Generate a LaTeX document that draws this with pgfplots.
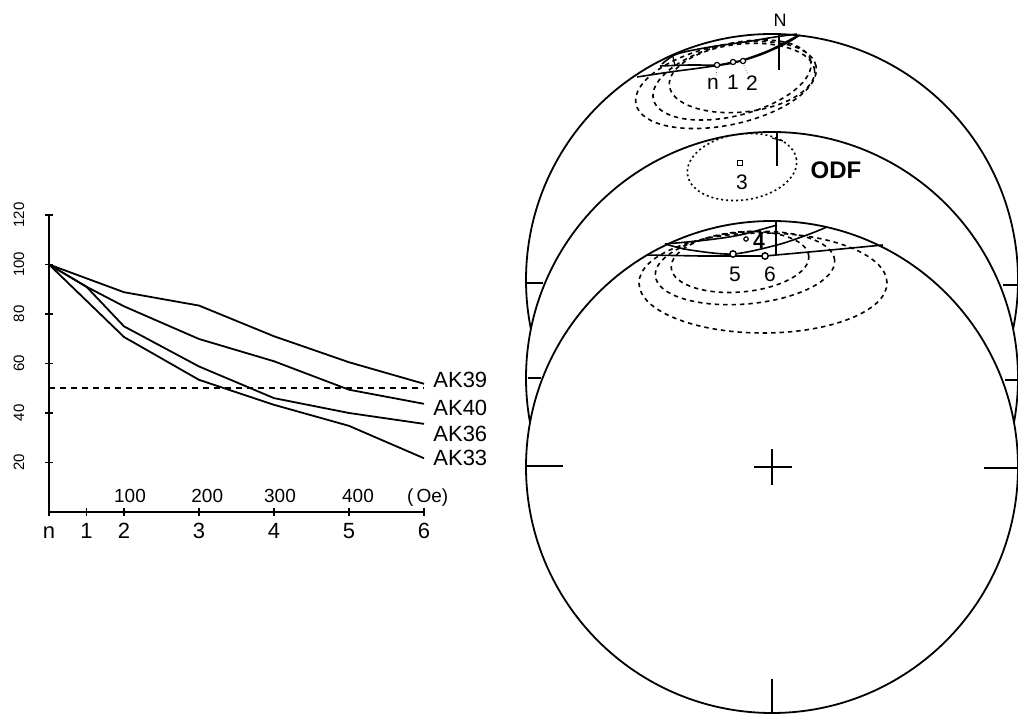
\documentclass[border=0pt]{standalone}
\usepackage{fontspec}
\setmainfont{Liberation Sans}
\usepackage{pgfplots}
\pgfplotsset{compat=1.18}
\begin{document}
\begin{tikzpicture}
\useasboundingbox (0,0) rectangle (509pt,357.5pt);
% ---------------- stereonets (pixel-based canvas axis) ----------------
\begin{axis}[name=canvas, at={(0,0)}, anchor=south west, scale only axis,
  width=509pt, height=357.5pt, xmin=0, xmax=1018, ymin=0, ymax=715,
  y dir=reverse, hide axis, clip=true]
% ===== top net =====
\draw[line width=0.9pt] (axis cs:772,280) circle[radius=123pt];
\draw[line width=0.8pt] (axis cs:527,283) -- (axis cs:543,283);
\draw[line width=0.8pt] (axis cs:1003,285) -- (axis cs:1018,285);
\draw[line width=0.8pt] (axis cs:779,34) -- (axis cs:779,70);
\draw[line width=0.6pt] (axis cs:673,57) -- (axis cs:675,66);
\addplot[black, smooth, line width=0.8pt] coordinates {(662,64) (677,54) (710,47) (745,42) (775,37) (797,34)};
\addplot[black, smooth, line width=0.8pt] coordinates {(660,66) (690,65) (717,65) (733,62) (743,60) (770,50) (797,36)};
\addplot[black, smooth, line width=0.8pt] coordinates {(637,77) (670,72) (700,68) (733,63) (760,55) (785,44) (800,35)};
\begin{scope}
\clip (axis cs:772,280) circle[radius=123pt];
\draw[line width=0.8pt, dash pattern=on 2.2pt off 2pt] (axis cs:726,85) circle[x radius=46pt, y radius=20pt, rotate=12];
\draw[line width=0.8pt, dash pattern=on 2.2pt off 2pt] (axis cs:732,80) circle[x radius=40.5pt, y radius=18pt, rotate=14];
\draw[line width=0.8pt, dash pattern=on 2.2pt off 2pt] (axis cs:742,78) circle[x radius=36.5pt, y radius=17pt, rotate=6];
\end{scope}
\draw[line width=0.3pt, densely dotted] (axis cs:717,67) -- (axis cs:716,76);
\draw[line width=0.3pt, densely dotted] (axis cs:743,63) -- (axis cs:748,75);
\addplot[only marks, mark=*, mark size=1.3pt, mark options={fill=white, draw=black, line width=0.6pt}] coordinates {(717,65) (733,62) (743,61)};
\node[font=\fontsize{9}{10}\selectfont] at (axis cs:780,20) {N};
\node[font=\fontsize{10.5}{11}\selectfont] at (axis cs:713,84) {n};
\node[font=\fontsize{10.5}{11}\selectfont] at (axis cs:733,82) {1};
\node[font=\fontsize{10.5}{11}\selectfont] at (axis cs:752,83) {2};
% ===== middle net =====
\draw[line width=0.9pt, fill=white] (axis cs:772,378) circle[radius=123pt];
\draw[line width=0.8pt] (axis cs:528,378) -- (axis cs:541,378);
\draw[line width=0.8pt] (axis cs:1005,380) -- (axis cs:1018,380);
\draw[line width=0.8pt] (axis cs:777,133) -- (axis cs:777,166);
\draw[line width=0.6pt] (axis cs:772,138) -- (axis cs:783,141);
\begin{scope}
\clip (axis cs:772,378) circle[radius=123pt];
\draw[line width=0.8pt, dash pattern=on 1pt off 1.5pt] (axis cs:742,167) circle[x radius=27.5pt, y radius=16.5pt, rotate=8];
\end{scope}
\addplot[only marks, mark=square, mark size=1.1pt, mark options={fill=white, draw=black, line width=0.5pt}] coordinates {(740,163)};
\node[font=\fontsize{10.5}{11}\selectfont] at (axis cs:742,182) {3};
\node[font=\bfseries\fontsize{12}{13}\selectfont] at (axis cs:836,170) {ODF};
% ===== bottom net =====
\draw[line width=0.9pt, fill=white] (axis cs:772,467) circle[radius=123pt];
\draw[line width=0.8pt] (axis cs:527,466) -- (axis cs:563,466);
\draw[line width=0.8pt] (axis cs:984,468) -- (axis cs:1018,468);
\draw[line width=0.8pt] (axis cs:772,679) -- (axis cs:772,713);
\draw[line width=0.9pt] (axis cs:754,467) -- (axis cs:792,467);
\draw[line width=0.9pt] (axis cs:772,449) -- (axis cs:772,485);
\draw[line width=0.8pt] (axis cs:776,222) -- (axis cs:776,255);
\addplot[black, smooth, line width=0.8pt] coordinates {(665,244) (707,240) (740,235) (777,225)};
\addplot[black, smooth, line width=0.8pt] coordinates {(665,244) (690,250) (733,254) (777,245) (807,235) (827,227)};
\addplot[black, line width=0.8pt] coordinates {(647,255) (700,256) (765,256) (820,251) (883,245)};
\begin{scope}
\clip (axis cs:772,467) circle[radius=123pt];
\draw[line width=0.8pt, dash pattern=on 2.2pt off 2pt] (axis cs:763,283) circle[x radius=62pt, y radius=25pt, rotate=0];
\draw[line width=0.8pt, dash pattern=on 2.2pt off 2pt] (axis cs:745,268) circle[x radius=45pt, y radius=18pt, rotate=5];
\draw[line width=0.8pt, dash pattern=on 2.2pt off 2pt] (axis cs:740,262) circle[x radius=34.5pt, y radius=15pt, rotate=5];
\end{scope}
\addplot[only marks, mark=*, mark size=1.1pt, mark options={fill=white, draw=black, line width=0.6pt}] coordinates {(746,239)};
\addplot[only marks, mark=*, mark size=1.6pt, mark options={fill=white, draw=black, line width=0.7pt}] coordinates {(733,254) (765,256)};
\node[font=\bfseries\fontsize{10.5}{11}\selectfont] at (axis cs:759,241) {4};
\node[font=\fontsize{10.5}{11}\selectfont] at (axis cs:735,274) {5};
\node[font=\fontsize{10.5}{11}\selectfont] at (axis cs:770,274) {6};
\end{axis}
% ---------------- demagnetisation curves ----------------
\begin{axis}[at={(24.5pt,101.5pt)}, anchor=south west, scale only axis,
  width=187.5pt, height=148.5pt, xmin=0, xmax=500, ymin=0, ymax=120,
  axis lines*=left, clip=false,
  x axis line style={line width=1.1pt}, y axis line style={line width=0.6pt},
  xtick={0,50,100,200,300,400,500}, xticklabels={n,1,2,3,4,5,6},
  ytick={20,40,60,80,100,120}, yticklabels={},
  tick align=center, major tick length=4pt, tick style={black, line width=0.6pt},
  xticklabel style={anchor=base, yshift=-11.5pt, font=\fontsize{11}{12}\selectfont}]
\addplot[black, line width=0.9pt] coordinates {(0,100) (100,88.8) (200,83.4) (300,71) (400,60.5) (500,51.8)};
\addplot[black, line width=0.9pt] coordinates {(0,100) (50,91) (100,83.1) (200,69.9) (300,60.9) (400,49.4) (500,43.7)};
\addplot[black, line width=0.9pt] coordinates {(0,100) (50,91) (100,75) (200,58.8) (300,46) (400,40) (500,35.6)};
\addplot[black, line width=0.9pt] coordinates {(0,100) (100,70.7) (200,53.4) (300,43.3) (400,34.8) (500,21.7)};
\addplot[black, line width=0.8pt, dash pattern=on 3pt off 2.5pt] coordinates {(0,50) (500,50)};
\node[anchor=west, inner sep=0pt, font=\fontsize{11}{12}\selectfont] at (axis cs:512,53.4) {AK39};
\node[anchor=west, inner sep=0pt, font=\fontsize{11}{12}\selectfont] at (axis cs:512,42.1) {AK40};
\node[anchor=west, inner sep=0pt, font=\fontsize{11}{12}\selectfont] at (axis cs:512,31.6) {AK36};
\node[anchor=west, inner sep=0pt, font=\fontsize{11}{12}\selectfont] at (axis cs:512,21.9) {AK33};
\node[anchor=base, font=\fontsize{9.5}{10}\selectfont] at (axis cs:108,0) [yshift=4.5pt] {100};
\node[anchor=base, font=\fontsize{9.5}{10}\selectfont] at (axis cs:211,0) [yshift=4.5pt] {200};
\node[anchor=base, font=\fontsize{9.5}{10}\selectfont] at (axis cs:308,0) [yshift=4.5pt] {300};
\node[anchor=base, font=\fontsize{9.5}{10}\selectfont] at (axis cs:412,0) [yshift=4.5pt] {400};
\node[anchor=base, font=\fontsize{9.5}{10}\selectfont] at (axis cs:505,0) [yshift=4.5pt] {(\,Oe)};
\node[rotate=90, font=\fontsize{7.5}{8}\selectfont] at (axis cs:-40,20) {20};
\node[rotate=90, font=\fontsize{7.5}{8}\selectfont] at (axis cs:-40,40) {40};
\node[rotate=90, font=\fontsize{7.5}{8}\selectfont] at (axis cs:-40,60) {60};
\node[rotate=90, font=\fontsize{7.5}{8}\selectfont] at (axis cs:-40,80) {80};
\node[rotate=90, font=\fontsize{7.5}{8}\selectfont] at (axis cs:-40,100) {100};
\node[rotate=90, font=\fontsize{7.5}{8}\selectfont] at (axis cs:-40,120) {120};
\end{axis}
\end{tikzpicture}
\end{document}
